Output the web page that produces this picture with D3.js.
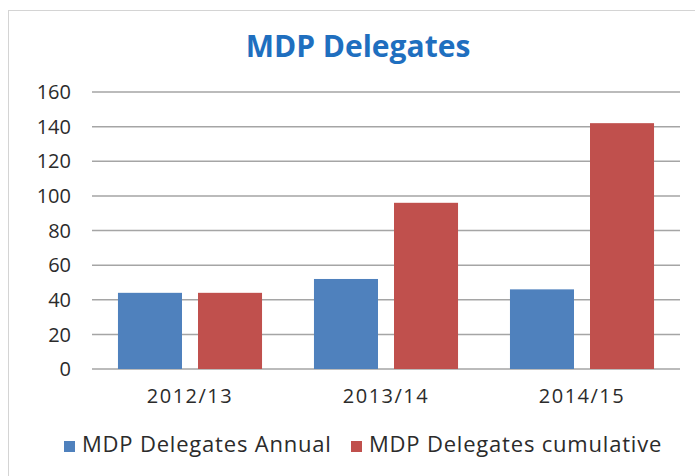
<!DOCTYPE html>
<html>
<head>
<meta charset="utf-8">
<script src="https://cdn.jsdelivr.net/npm/d3@7"></script>
<style>
  body { margin: 0; background: #fff; }
  text { font-family: "Open Sans", sans-serif; }
</style>
</head>
<body>
<svg id="chart" width="695" height="476"></svg>
<script>
// data
var years = ["2012/13", "2013/14", "2014/15"];
var seriesNames = ["MDP Delegates Annual", "MDP Delegates cumulative"];
var annual = [44, 52, 46];
var cumulative = [44, 96, 142];
var yTicks = [0, 20, 40, 60, 80, 100, 120, 140, 160];
var colors = ["#4f81bd", "#c0504d"];

function drawChart() {
  var svg = d3.select("#chart");

  // frame
  svg.append("rect")
      .attr("x", 8.5)
      .attr("y", 10.5)
      .attr("width", 720)
      .attr("height", 520)
      .attr("fill", "#fff")
      .attr("stroke", "#d4d4d4");

  svg.append("text")
      .attr("x", 358)
      .attr("y", 57)
      .attr("text-anchor", "middle")
      .attr("font-size", 30)
      .attr("font-weight", "bold")
      .attr("fill", "#1f6fbf")
      .text("MDP Delegates");

  var plotLeft = 92, plotRight = 680, plotTop = 92, plotBottom = 369;

  var y = d3.scaleLinear()
      .domain([0, 160])
      .range([plotBottom, plotTop]);

  var x0 = d3.scaleBand()
      .domain(years)
      .range([plotLeft, plotRight])
      .paddingInner(0.265)
      .paddingOuter(0.1325);

  var x1 = d3.scaleBand()
      .domain([0, 1])
      .range([0, x0.bandwidth()])
      .paddingInner(0.2);

  // grid lines
  svg.append("g")
      .selectAll("line")
      .data(yTicks)
      .enter()
      .append("line")
        .attr("x1", plotLeft)
        .attr("x2", plotRight)
        .attr("y1", d => y(d))
        .attr("y2", d => y(d))
        .attr("stroke", "#a5a5a5")
        .attr("stroke-width", 1.5);

  // y labels
  svg.append("g")
      .selectAll("text")
      .data(yTicks)
      .enter()
      .append("text")
        .attr("x", 71)
        .attr("y", d => y(d))
        .attr("dy", "0.36em")
        .attr("text-anchor", "end")
        .attr("font-size", 20)
        .attr("fill", "#2b2b2b")
        .text(d => d);

  // bars
  var rows = years.map((yr, i) => ({ year: yr, values: [annual[i], cumulative[i]] }));

  var groups = svg.append("g")
      .selectAll("g")
      .data(rows)
      .enter()
      .append("g")
        .attr("transform", d => "translate(" + x0(d.year) + ",0)");

  groups.selectAll("rect")
      .data(d => d.values.map((v, k) => ({ k: k, v: v })))
      .enter()
      .append("rect")
        .attr("x", d => x1(d.k))
        .attr("width", x1.bandwidth())
        .attr("y", d => y(d.v))
        .attr("height", d => y(0) - y(d.v))
        .attr("fill", d => colors[d.k]);

  // x labels
  svg.append("g")
      .selectAll("text")
      .data(years)
      .enter()
      .append("text")
        .attr("x", d => x0(d) + x0.bandwidth() / 2)
        .attr("y", 403)
        .attr("text-anchor", "middle")
        .attr("font-size", 20)
        .attr("letter-spacing", 1.5)
        .attr("fill", "#2b2b2b")
        .text(d => d);

  // legend
  var legendX = [64, 351];
  var legend = svg.append("g")
      .selectAll("g")
      .data(seriesNames)
      .enter()
      .append("g")
        .attr("transform", (d, i) => "translate(" + legendX[i] + ",441)");

  legend.append("rect")
      .attr("width", 11)
      .attr("height", 11)
      .attr("fill", (d, i) => colors[i]);

  legend.append("text")
      .attr("x", 18)
      .attr("y", 11)
      .attr("font-size", 22)
      .attr("letter-spacing", 0.8)
      .attr("fill", "#2b2b2b")
      .text(d => d);
}

drawChart();
</script>
</body>
</html>
